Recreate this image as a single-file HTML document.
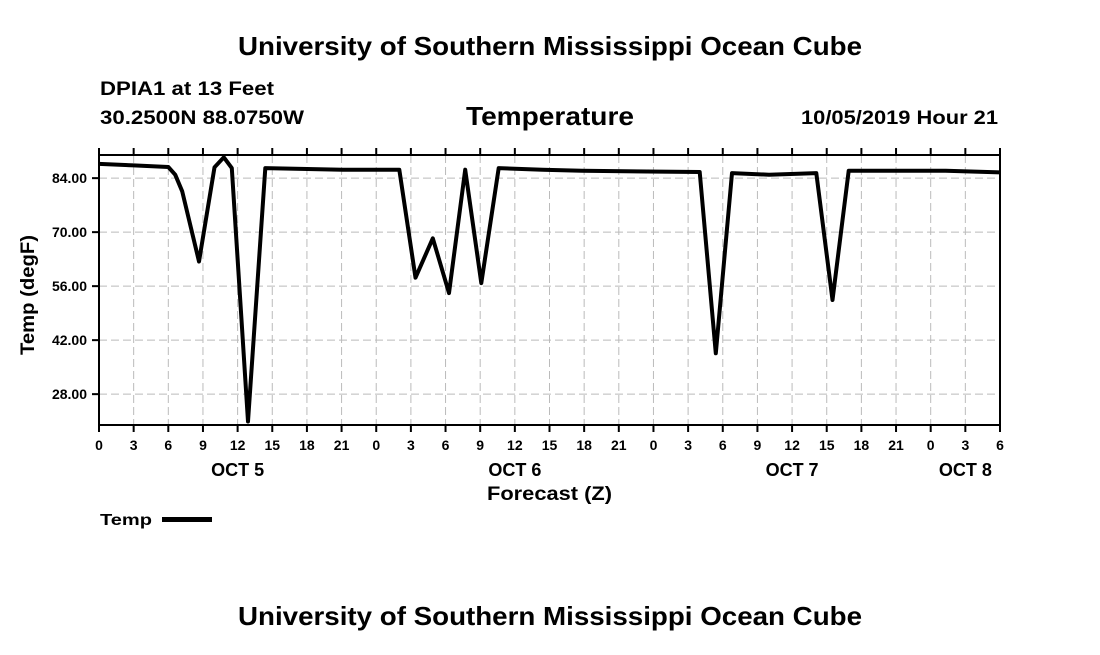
<!DOCTYPE html>
<html><head><meta charset="utf-8"><style>
body{margin:0;background:#fff;}
svg text{font-family:"Liberation Sans",sans-serif;font-weight:bold;fill:#000;}
</style></head><body>
<svg width="1100" height="650" viewBox="0 0 1100 650">
<text x="238" y="55" font-size="26" textLength="624" lengthAdjust="spacingAndGlyphs">University of Southern Mississippi Ocean Cube</text>
<text x="100" y="95" font-size="19" textLength="174" lengthAdjust="spacingAndGlyphs">DPIA1 at 13 Feet</text>
<text x="100" y="124" font-size="19" textLength="204" lengthAdjust="spacingAndGlyphs">30.2500N 88.0750W</text>
<text x="466" y="125" font-size="26" textLength="168" lengthAdjust="spacingAndGlyphs">Temperature</text>
<text x="801" y="124" font-size="19" textLength="197" lengthAdjust="spacingAndGlyphs">10/05/2019 Hour 21</text>
<g id="grid"></g>
<g id="axes"></g>
<path id="line" fill="none" stroke="#000" stroke-width="4" stroke-linejoin="round"/>
<text transform="translate(34,295) rotate(-90)" font-size="19" text-anchor="middle" textLength="120" lengthAdjust="spacingAndGlyphs">Temp (degF)</text>
<text x="487" y="500" font-size="19" textLength="125" lengthAdjust="spacingAndGlyphs">Forecast (Z)</text>
<text x="100" y="525" font-size="16" textLength="52" lengthAdjust="spacingAndGlyphs">Temp</text>
<rect x="162" y="517" width="50" height="5" fill="#000"/>
<text x="238" y="625" font-size="26" textLength="624" lengthAdjust="spacingAndGlyphs">University of Southern Mississippi Ocean Cube</text>
</svg>
<script>
const hours=[0,3,6,6.6,7.2,8.66,10,10.8,11.5,12.9,14.4,21.1,26,27.4,28.9,30.3,31.7,33.1,34.6,38.4,41.8,48.5,52,53.4,54.8,58,62.1,63.5,64.9,69,73.3,78];
const temps=[87.7,87.3,86.9,84.9,80.6,62.4,86.8,89.4,86.6,20.9,86.6,86.2,86.2,58.2,68.4,54.2,86.2,56.8,86.6,86.2,85.9,85.7,85.6,38.6,85.3,84.9,85.3,52.4,85.9,85.9,85.9,85.5];
const yTicks=[28,42,56,70,84];
const xTickLabels=["0","3","6","9","12","15","18","21","0","3","6","9","12","15","18","21","0","3","6","9","12","15","18","21","0","3","6"];
const dayLabels=["OCT 5","OCT 6","OCT 7","OCT 8"];
const dayHours=[12,36,60,75];
const X0=99,X1=1000,Y0=155,Y1=425,HMAX=78,VMIN=20,VMAX=90;
const xs=h=>X0+(h/HMAX)*(X1-X0);
const ys=v=>Y1-(v-VMIN)/(VMAX-VMIN)*(Y1-Y0);
const NS="http://www.w3.org/2000/svg";
const grid=document.getElementById('grid'),axes=document.getElementById('axes');
function mk(tag,attrs,parent){const e=document.createElementNS(NS,tag);for(const k in attrs)e.setAttribute(k,attrs[k]);parent.appendChild(e);return e;}
yTicks.forEach(v=>{
  const y=ys(v);
  const g=mk('line',{x1:X0,x2:X1,y1:y,y2:y,stroke:'#bbb','stroke-dasharray':'8,4'},grid);
  
  
  const t=mk('text',{x:87,y:y+5,'font-size':14,'text-anchor':'end'},axes);
  t.textContent=v.toFixed(2);
  
  
  const tk=mk('line',{x1:X0-7,x2:X0,y1:y,y2:y,stroke:'#000','stroke-width':2},axes);
  
  
});
xTickLabels.forEach((lb,i)=>{
  const x=xs(i*3);
  if(i>0&&i<xTickLabels.length-1){
    const g=mk('line',{x1:x,x2:x,y1:Y0,y2:Y1,stroke:'#bbb','stroke-dasharray':'8,4'},grid);
    
    
  }
  const tk=mk('line',{x1:x,x2:x,y1:Y1,y2:Y1+7,stroke:'#000','stroke-width':2},axes);
  
  
  const tt=mk('line',{x1:x,x2:x,y1:Y0-7,y2:Y0,stroke:'#000','stroke-width':2},axes);
  
  
  const t=mk('text',{x:x,y:450,'font-size':14,'text-anchor':'middle'},axes);
  t.textContent=lb;
  
  
});
dayLabels.forEach((lb,i)=>{
  const t=mk('text',{x:xs(dayHours[i]),y:476,'font-size':18,'text-anchor':'middle'},axes);
  t.textContent=lb;
  
  
});
const frame=mk('rect',{x:X0,y:Y0,width:X1-X0,height:Y1-Y0,fill:'none',stroke:'#000','stroke-width':2},axes);


document.getElementById('line').setAttribute('d',hours.map((h,i)=>(i?'L':'M')+xs(h).toFixed(1)+','+ys(temps[i]).toFixed(1)).join(' '));
</script>
</body></html>
